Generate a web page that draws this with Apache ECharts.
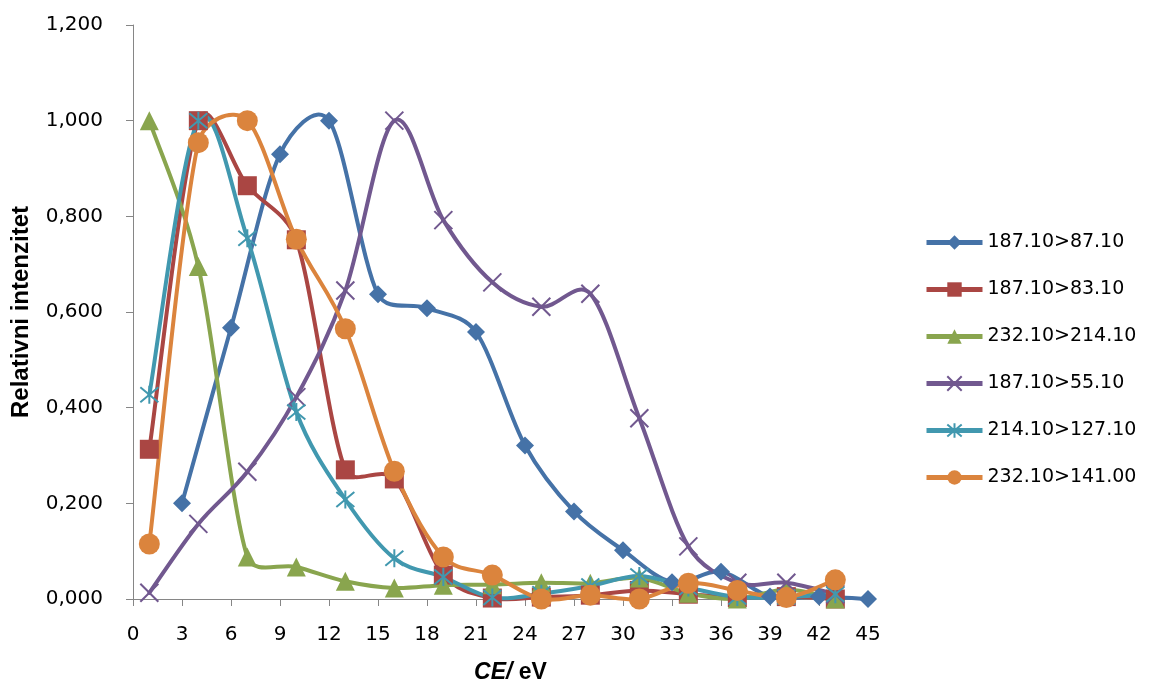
<!DOCTYPE html>
<html>
<head>
<meta charset="utf-8">
<script src="https://cdn.jsdelivr.net/npm/echarts@6/dist/echarts.min.js"></script>
<style>html,body{margin:0;padding:0;background:#fff;}#chart{width:1149px;height:687px;}</style>
</head>
<body>
<div id="chart"></div>
<script>
// ---- data ----
var ceA = [3, 6, 9, 12, 15, 18, 21, 24, 27, 30, 33, 36, 39, 42, 45];
var ceB = [1, 4, 7, 10, 13, 16, 19, 22, 25, 28, 31, 34, 37, 40, 43];
var seriesNames = ['187.10>87.10', '187.10>83.10', '232.10>214.10', '187.10>55.10', '214.10>127.10', '232.10>141.00'];
var s187_87 = [0.200, 0.567, 0.930, 1.000, 0.637, 0.608, 0.558, 0.321, 0.183, 0.102, 0.035, 0.057, 0.005, 0.005, 0.000];
var s187_83 = [0.313, 1.000, 0.864, 0.751, 0.270, 0.251, 0.050, 0.002, 0.004, 0.008, 0.018, 0.010, 0.003, 0.005, 0.000];
var s232_214 = [1.000, 0.695, 0.088, 0.067, 0.037, 0.023, 0.029, 0.030, 0.034, 0.033, 0.044, 0.012, 0.000, 0.020, 0.000];
var s187_55 = [0.013, 0.157, 0.266, 0.422, 0.645, 1.000, 0.792, 0.662, 0.611, 0.638, 0.378, 0.110, 0.034, 0.034, 0.010];
var s214_127 = [0.427, 1.000, 0.754, 0.391, 0.208, 0.085, 0.046, 0.003, 0.011, 0.027, 0.048, 0.024, 0.004, 0.004, 0.010];
var s232_141 = [0.115, 0.954, 1.000, 0.752, 0.565, 0.267, 0.088, 0.050, 0.000, 0.008, 0.000, 0.033, 0.018, 0.003, 0.040];
var yTicks = [0, 0.2, 0.4, 0.6, 0.8, 1.0, 1.2];

function pairs(xs, ys) { return xs.map(function (x, i) { return [x, ys[i]]; }); }

var colors = ['#4572A7', '#AA4643', '#89A54E', '#71588F', '#4198AF', '#DB843D'];
var xPath = 'path://M0,0 L10,10 M10,0 L0,10';
var starPath = 'path://M0,0 L10,10 M10,0 L0,10 M5,-1 L5,11';

var defs = [
  { xs: ceA, ys: s187_87, symbol: 'diamond', size: 18 },
  { xs: ceB, ys: s187_83, symbol: 'rect', size: 19 },
  { xs: ceB, ys: s232_214, symbol: 'triangle', size: 19 },
  { xs: ceB, ys: s187_55, symbol: xPath, size: 18, stroke: true },
  { xs: ceB, ys: s214_127, symbol: starPath, size: 18, stroke: true },
  { xs: ceB, ys: s232_141, symbol: 'circle', size: 21 }
];

// cap a control arm to a fraction of the segment chord (limits overshoot like a spreadsheet smoothed line)
function arm(dx, dy, chord) {
  var len = Math.sqrt(dx * dx + dy * dy), cap = chord * 0.4;
  if (len > cap && len > 0) { dx *= cap / len; dy *= cap / len; }
  return [dx, dy];
}

// smooth curve through the data points, positioned with the chart's own coordinate system (api.coord)
function curveRenderer(d, color) {
  return function (params, api) {
    if (params.dataIndex !== 0) return null;
    var p = d.xs.map(function (x, i) { return api.coord([x, d.ys[i]]); });
    var n = p.length, kids = [];
    for (var i = 0; i < n - 1; i++) {
      var p0 = p[Math.max(i - 1, 0)], p1 = p[i], p2 = p[i + 1], p3 = p[Math.min(i + 2, n - 1)];
      var c = Math.sqrt(Math.pow(p2[0] - p1[0], 2) + Math.pow(p2[1] - p1[1], 2));
      var a1 = arm((p2[0] - p0[0]) / 6, (p2[1] - p0[1]) / 6, c);
      var a2 = arm((p3[0] - p1[0]) / 6, (p3[1] - p1[1]) / 6, c);
      kids.push({
        type: 'bezierCurve',
        shape: {
          x1: p1[0], y1: p1[1], x2: p2[0], y2: p2[1],
          cpx1: p1[0] + a1[0], cpy1: p1[1] + a1[1],
          cpx2: p2[0] - a2[0], cpy2: p2[1] - a2[1]
        },
        style: { fill: null, stroke: color, lineWidth: 4, lineCap: 'round', lineJoin: 'round' }
      });
    }
    return { type: 'group', children: kids };
  };
}

var series = [];
defs.forEach(function (d, i) {
  series.push({
    name: '_curve' + i,
    type: 'custom',
    coordinateSystem: 'cartesian2d',
    data: pairs(d.xs, d.ys),
    encode: { x: 0, y: 1 },
    renderItem: curveRenderer(d, colors[i]),
    silent: true,
    clip: false,
    animation: false
  });
  series.push({
    name: seriesNames[i],
    type: 'line',
    data: pairs(d.xs, d.ys),
    symbol: d.symbol,
    symbolSize: d.size,
    showAllSymbol: true,
    lineStyle: { color: colors[i], width: 4, opacity: 0 },
    itemStyle: d.stroke ? { color: colors[i], borderColor: colors[i], borderWidth: 2 } : { color: colors[i] },
    emphasis: { disabled: true },
    silent: true,
    animation: false
  });
});

var chart = echarts.init(document.getElementById('chart'));
chart.setOption({
  animation: false,
  color: colors,
  grid: { left: 133, right: 281, top: 25, bottom: 88, containLabel: false, outerBoundsMode: 'none' },
  legend: {
    orient: 'vertical',
    left: 919,
    top: 228,
    itemWidth: 56,
    itemHeight: 18,
    itemGap: 28,
    selectedMode: false,
    data: seriesNames.map(function (nm, i) {
      return { name: nm, lineStyle: { color: colors[i], width: 5, opacity: 1 } };
    }),
    textStyle: { fontFamily: 'DejaVu Sans', fontSize: 19, color: '#000' }
  },
  xAxis: {
    type: 'value',
    min: 0,
    max: 45,
    interval: 3,
    splitLine: { show: false },
    axisLine: { lineStyle: { color: '#868686', width: 1 } },
    axisTick: { show: true, length: 7, lineStyle: { color: '#868686' } },
    axisLabel: { fontFamily: 'DejaVu Sans', fontSize: 20, color: '#000', margin: 26 },
    name: '{b|CE/}{n| eV}',
    nameLocation: 'middle',
    nameGap: 62,
    nameTextStyle: {
      padding: [0, 0, 0, 20],
      rich: {
        b: { fontFamily: 'Liberation Sans', fontSize: 23, fontWeight: 'bold', fontStyle: 'italic', color: '#000' },
        n: { fontFamily: 'Liberation Sans', fontSize: 23, fontWeight: 'bold', color: '#000' }
      }
    }
  },
  yAxis: {
    type: 'value',
    min: yTicks[0],
    max: yTicks[yTicks.length - 1],
    interval: 0.2,
    splitLine: { show: false },
    axisLine: { show: true, lineStyle: { color: '#868686', width: 1 } },
    axisTick: { show: true, length: 7, lineStyle: { color: '#868686' } },
    axisLabel: {
      fontFamily: 'DejaVu Sans', fontSize: 20, color: '#000', margin: 30,
      formatter: function (v) { return v.toFixed(3).replace('.', ','); }
    },
    name: 'Relativni intenzitet',
    nameLocation: 'middle',
    nameRotate: 90,
    nameGap: 100,
    nameTextStyle: { fontFamily: 'Liberation Sans', fontSize: 24, fontWeight: 'bold', color: '#000' }
  },
  series: series
});
</script>
</body>
</html>
